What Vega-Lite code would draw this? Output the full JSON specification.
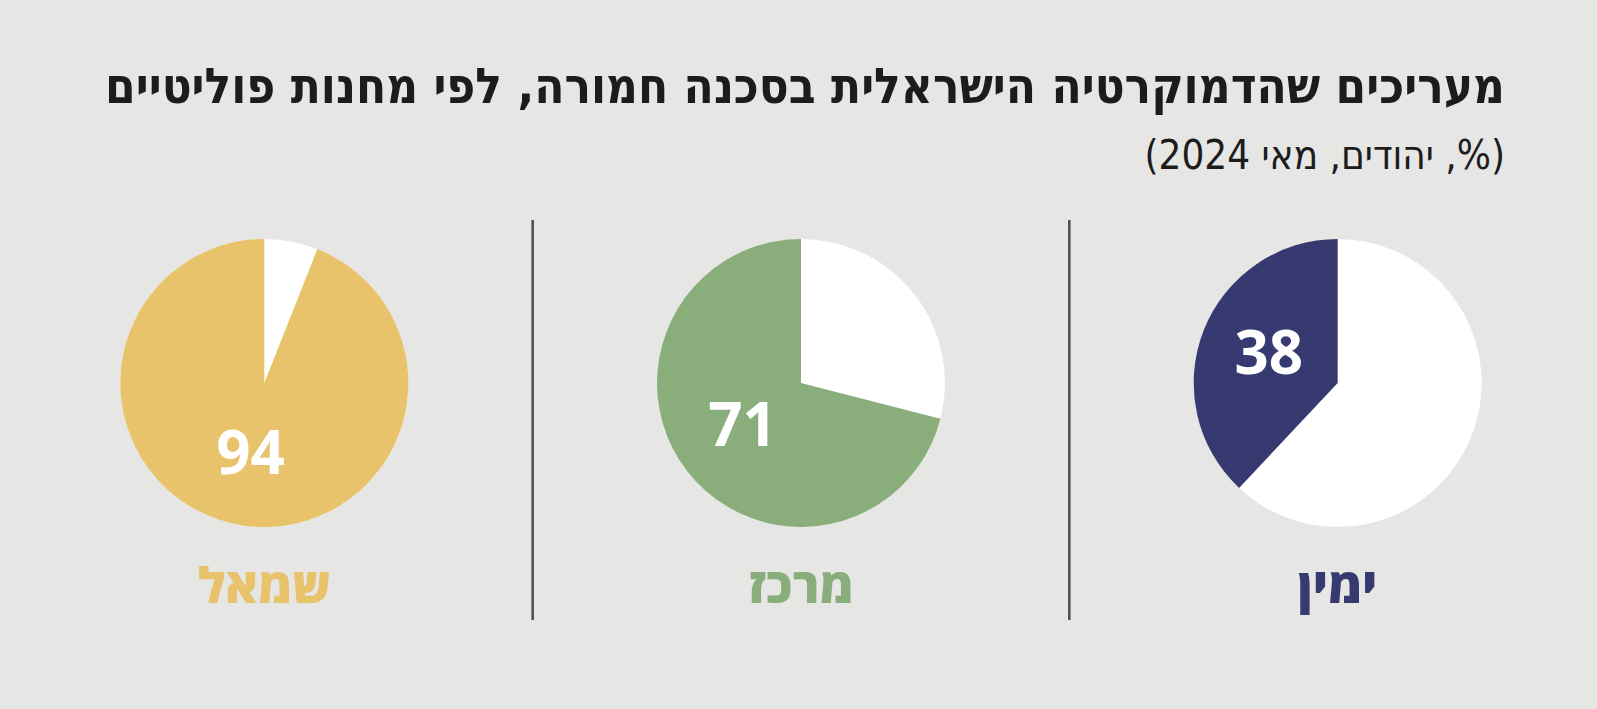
{
  "$schema": "https://vega.github.io/schema/vega-lite/v6.json",
  "width": 1597,
  "height": 400,
  "autosize": {"type": "none"},
  "padding": {"top": 220, "left": 0, "right": 0, "bottom": 89},
  "background": "#e6e6e4",
  "config": {"view": {"stroke": null}},
  "title": {
    "text": "‏מעריכים שהדמוקרטיה הישראלית בסכנה חמורה, לפי מחנות פוליטיים‏",
    "subtitle": "‏(%, יהודים, מאי 2024)‏",
    "anchor": "end",
    "align": "right",
    "dx": -92,
    "offset": 42,
    "font": "DejaVu Sans Condensed",
    "fontSize": 49,
    "fontWeight": "bold",
    "color": "#1c1c1c",
    "subtitleFont": "DejaVu Sans Condensed",
    "subtitleFontSize": 40,
    "subtitleColor": "#1c1c1c",
    "subtitlePadding": 24
  },
  "data": {
    "values": [
      {"party": "שמאל", "value": 94},
      {"party": "מרכז", "value": 71},
      {"party": "ימין", "value": 38}
    ]
  },
  "encoding": {
    "x": {
      "field": "party",
      "type": "nominal",
      "sort": ["שמאל", "מרכז", "ימין"],
      "scale": {"type": "band", "range": [-4, 1606], "paddingInner": 0, "paddingOuter": 0},
      "axis": null
    }
  },
  "layer": [
    {
      "transform": [{"filter": "datum.party != 'שמאל'"}],
      "mark": {"type": "rule", "stroke": "#4d4d4d", "strokeWidth": 2.5},
      "encoding": {
        "x": {"field": "party", "type": "nominal", "sort": ["שמאל", "מרכז", "ימין"], "bandPosition": 0}
      }
    },
    {
      "mark": {"type": "arc", "theta": 0, "theta2": 6.2832, "radius": 144, "fill": "#ffffff", "yOffset": -37},
      "encoding": {}
    },
    {
      "mark": {"type": "arc", "radius": 144, "yOffset": -37},
      "encoding": {
        "theta": {"field": "value", "type": "quantitative", "stack": null, "scale": {"domain": [0, 100], "range": [6.2832, 0]}},
        "theta2": {"value": 6.2832},
        "color": {
          "field": "party",
          "type": "nominal",
          "scale": {"domain": ["שמאל", "מרכז", "ימין"], "range": ["#e8c36b", "#8aae7b", "#363a70"]},
          "legend": null
        }
      }
    },
    {
      "mark": {"type": "text", "radius": 74, "yOffset": -37, "font": "Open Sans", "fontWeight": "bold", "fontSize": 60, "fill": "#ffffff", "align": "center", "baseline": "middle"},
      "encoding": {
        "theta": {"field": "value", "type": "quantitative", "stack": null, "scale": {"domain": [0, 200], "range": [6.2832, 0]}},
        "text": {"field": "value", "type": "quantitative"}
      }
    },
    {
      "mark": {"type": "text", "dy": 168, "font": "Open Sans", "fontWeight": 800, "fontSize": 49, "align": "center", "baseline": "middle"},
      "encoding": {
        "text": {"field": "party", "type": "nominal"},
        "color": {
          "field": "party",
          "type": "nominal",
          "scale": {"domain": ["שמאל", "מרכז", "ימין"], "range": ["#e8c36b", "#8aae7b", "#363a70"]},
          "legend": null
        }
      }
    }
  ],
  "resolve": {"scale": {"theta": "independent"}}
}
